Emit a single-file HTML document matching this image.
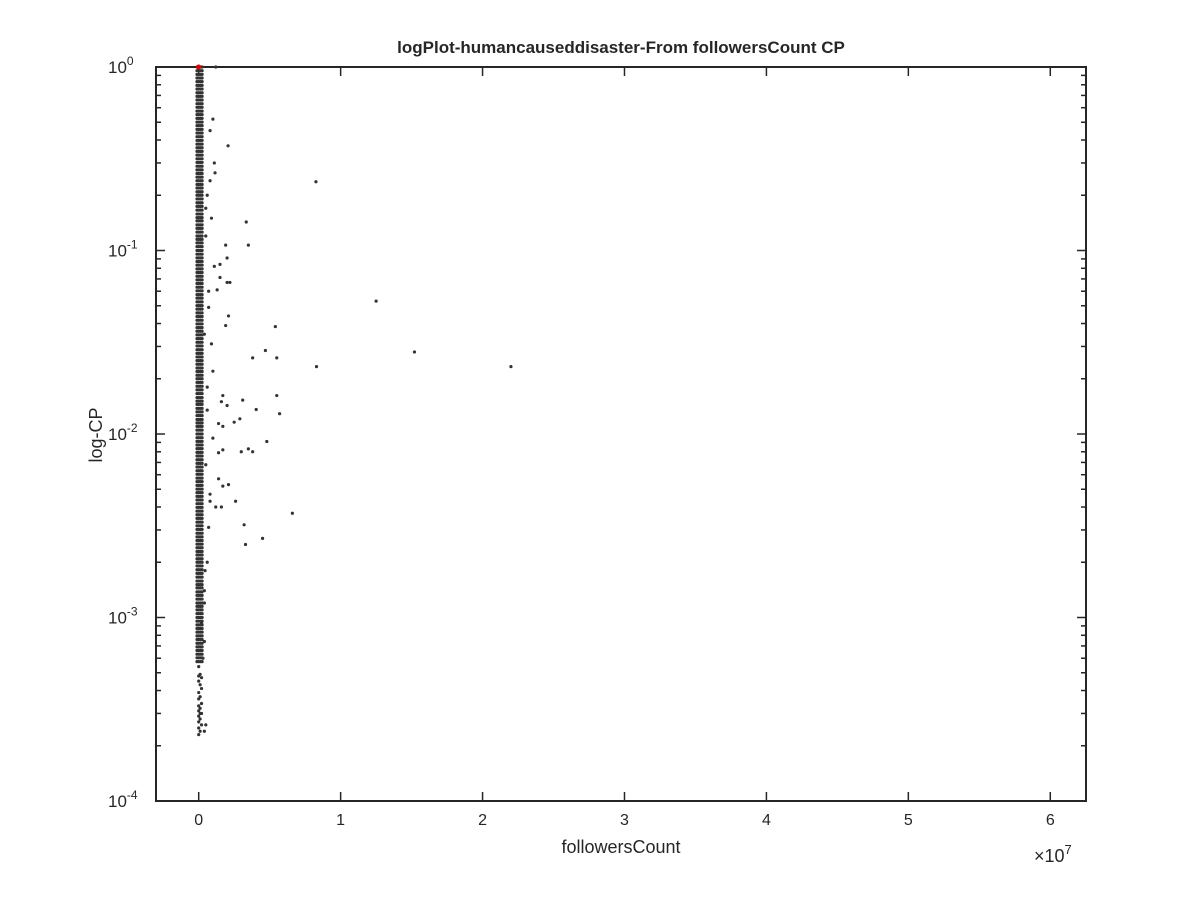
<!DOCTYPE html>
<html><head><meta charset="utf-8"><style>
body{margin:0;background:#fff;}
svg text{font-family:"Liberation Sans",sans-serif;fill:#262626;}
</style></head><body>
<svg id="chart" width="1200" height="900" xmlns="http://www.w3.org/2000/svg">
<rect width="1200" height="900" fill="#fff"/>
<text x="621" y="53" font-size="17" font-weight="bold" text-anchor="middle">logPlot-humancauseddisaster-From followersCount CP</text>
<text x="621" y="853" font-size="18" text-anchor="middle">followersCount</text>
<text transform="translate(102,435) rotate(-90)" font-size="18" text-anchor="middle">log-CP</text>
<text x="1034" y="862" font-size="18">×10<tspan dy="-8" font-size="13">7</tspan></text>
<g id="grid"></g>
<g id="marks"></g>
</svg>
<script>
const xTicks = [0,1,2,3,4,5,6];
const yDecades = [0,-1,-2,-3,-4];
const outX = [0.12,0.207,0.826,0.115,0.335,0.35,0.19,0.2,0.15,0.15,0.2,0.22,0.13,1.25,0.54,0.21,0.19,0.47,0.38,0.55,0.83,2.2,1.52,0.55,0.31,0.405,0.57,0.17,0.16,0.2,0.25,0.29,0.17,0.14,0.48,0.35,0.38,0.3,0.17,0.14,0.14,0.17,0.21,0.26,0.08,0.16,0.12,0.66,0.32,0.45,0.33,0.06,0.045,0.04,0.04,0.04,0.02,0.03,0.1,0.08,0.11,0.06,0.09,0.05,0.07,0.04,0.1,0.06,0.08,0.05,0.11,0.07,0.09,0.06,0.1,0.05,0.08,0.07];
const outCP = [1.0,0.372,0.237,0.265,0.143,0.107,0.107,0.091,0.084,0.0713,0.067,0.067,0.061,0.053,0.0385,0.044,0.039,0.0285,0.026,0.026,0.0233,0.0233,0.028,0.0162,0.0153,0.0136,0.0129,0.0162,0.015,0.0143,0.0116,0.0121,0.011,0.0114,0.0091,0.0083,0.008,0.008,0.0082,0.0079,0.0057,0.0052,0.0053,0.0043,0.0043,0.004,0.004,0.0037,0.0032,0.0027,0.0025,0.002,0.0018,0.0014,0.0012,0.00074,0.00093,0.0006,0.52,0.45,0.3,0.2,0.15,0.12,0.06,0.035,0.022,0.018,0.24,0.17,0.082,0.049,0.031,0.0135,0.0095,0.0068,0.0047,0.0031];
const tailX = [0,0.01,0,0.02,0,0.01,0.02,0,0.01,0,0.02,0,0.01,0,0.02,0.01,0,0.01,0,0.02,0,0.01,0,0.05,0.04];
const tailCP = [0.00054,0.00049,0.00048,0.00047,0.00045,0.00043,0.00041,0.00039,0.00037,0.00036,0.00034,0.00033,0.00032,0.00031,0.00030,0.00030,0.00029,0.00028,0.00027,0.00026,0.00025,0.00024,0.00023,0.00026,0.00024];
const colX = [-0.012,0,0.012,0.024];
const colCP = [1,.955,.912,.871,.832,.794,.759,.724,.692,.661,.631,.603,.575,.550,.525,.501,.479,.457,.437,.417,.398,.380,.363,.347,.331,.316,.302,.288,.275,.263,.251,.240,.229,.219,.209,.200,.191,.182,.174,.166,.158,.151,.145,.138,.132,.126,.120,.115,.110,.105,
.1,.0955,.0912,.0871,.0832,.0794,.0759,.0724,.0692,.0661,.0631,.0603,.0575,.0550,.0525,.0501,.0479,.0457,.0437,.0417,.0398,.0380,.0363,.0347,.0331,.0316,.0302,.0288,.0275,.0263,.0251,.0240,.0229,.0219,.0209,.0200,.0191,.0182,.0174,.0166,.0158,.0151,.0145,.0138,.0132,.0126,.0120,.0115,.0110,.0105,
.01,.00955,.00912,.00871,.00832,.00794,.00759,.00724,.00692,.00661,.00631,.00603,.00575,.00550,.00525,.00501,.00479,.00457,.00437,.00417,.00398,.00380,.00363,.00347,.00331,.00316,.00302,.00288,.00275,.00263,.00251,.00240,.00229,.00219,.00209,.00200,.00191,.00182,.00174,.00166,.00158,.00151,.00145,.00138,.00132,.00126,.00120,.00115,.00110,.00105,
.001,.000955,.000912,.000871,.000832,.000794,.000759,.000724,.000692,.000661,.000631,.000603,.000575];
const redX = [0];
const redCP = [1];

const L=156,R=1086,T=67,B=801;
const x0=198.7, xs=141.93;
function X(v){return x0+xs*v;}
function Y(cp){return T+(B-T)/4*(-Math.log10(cp));}
const NS="http://www.w3.org/2000/svg";
const grid=document.getElementById('grid'), marks=document.getElementById('marks');
function mk(tag,attrs,parent){const e=document.createElementNS(NS,tag);for(const k in attrs)e.setAttribute(k,attrs[k]);parent.appendChild(e);return e;}

const box=mk('rect',{x:L,y:T,width:R-L,height:B-T,fill:'none',stroke:'#262626','stroke-width':2},grid);


xTicks.forEach(t=>{
  const px=X(t);
  const a=mk('line',{x1:px,x2:px,y1:B,y2:B-9,stroke:'#262626','stroke-width':1.5},grid);
  
  
  const b=mk('line',{x1:px,x2:px,y1:T,y2:T+9,stroke:'#262626','stroke-width':1.5},grid);
  
  
  const tx=mk('text',{x:px,y:B+24,'font-size':16,'text-anchor':'middle'},grid);
  tx.textContent=String(t);
  
  
});
yDecades.forEach(d=>{
  const py=Y(Math.pow(10,d));
  [[L,L+9],[R,R-9]].forEach(p=>{
    const l=mk('line',{x1:p[0],x2:p[1],y1:py,y2:py,stroke:'#262626','stroke-width':1.5},grid);
    
    
  });
  if(d>-4){
    for(let m=2;m<=9;m++){
      const my=Y(m*Math.pow(10,d-1));
      [[L,L+5],[R,R-5]].forEach(p=>{
        const l=mk('line',{x1:p[0],x2:p[1],y1:my,y2:my,stroke:'#262626','stroke-width':1.5},grid);
        
        
      });
    }
  }
  const tx=mk('text',{x:L-48,y:py+6,'font-size':17},grid);
  tx.innerHTML='10<tspan dy="-8" font-size="12">'+d+'</tspan>';
  
  
});
function pt(x,cp,fill,name){
  const c=mk('circle',{cx:X(x),cy:Y(cp),r:1.6,fill:fill},marks);
  
  
}
colCP.forEach(cp=>colX.forEach(x=>pt(x,cp,'#333','column-point')));
tailCP.forEach((cp,i)=>pt(tailX[i],cp,'#333','tail-point'));
outCP.forEach((cp,i)=>pt(outX[i],cp,'#333','outlier-point'));
redCP.forEach((cp,i)=>{
  const c=mk('circle',{cx:X(redX[i]),cy:Y(cp),r:2.5,fill:'#e00000'},marks);
  
  
});
</script>
</body></html>
